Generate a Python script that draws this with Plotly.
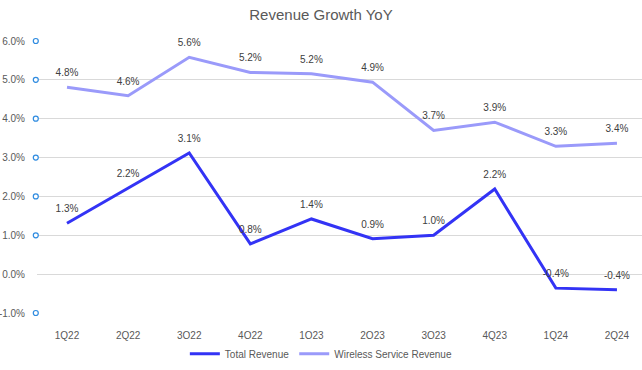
import plotly.graph_objects as go

quarters = ["1Q22", "2Q22", "3Q22", "4Q22", "1Q23", "2Q23", "3Q23", "4Q23", "1Q24", "2Q24"]
total_revenue = [1.31, 2.21, 3.12, 0.78, 1.42, 0.91, 1.00, 2.19, -0.36, -0.40]
wireless_revenue = [4.81, 4.59, 5.58, 5.19, 5.16, 4.94, 3.70, 3.91, 3.29, 3.37]
y_ticks = [-1, 0, 1, 2, 3, 4, 5, 6]
Y_MIN, Y_MAX = -1, 6

FONT = "Liberation Sans"
fig = go.Figure()
fig.add_trace(go.Scatter(
    x=quarters, y=total_revenue, name="Total Revenue",
    mode="lines+markers+text",
    line=dict(color="#3333F5", width=3),
    marker=dict(size=12, color="rgba(0,0,0,0)"),
    text=[f"{v:.1f}%" for v in total_revenue], textposition="top center",
    textfont=dict(family=FONT, size=10, color="#404040"),
    cliponaxis=False,
))
fig.add_trace(go.Scatter(
    x=quarters, y=wireless_revenue, name="Wireless Service Revenue",
    mode="lines+markers+text",
    line=dict(color="#9A9AFA", width=3),
    marker=dict(size=12, color="rgba(0,0,0,0)"),
    text=[f"{v:.1f}%" for v in wireless_revenue], textposition="top center",
    textfont=dict(family=FONT, size=10, color="#404040"),
    cliponaxis=False,
))

shapes = []
for t in y_ticks:
    if t == 0:
        continue
    shapes.append(dict(type="circle", xref="paper", yref="paper", xsizemode="pixel", ysizemode="pixel",
                       xanchor=-0.002, yanchor=(t - Y_MIN) / (Y_MAX - Y_MIN),
                       x0=-2.5, x1=2.5, y0=-2.5, y1=2.5,
                       line=dict(color="#2E8BE0", width=1.2), fillcolor="white", layer="above"))

fig.update_layout(
    width=642, height=370,
    margin=dict(l=37, r=0, t=41, b=57, autoexpand=False),
    paper_bgcolor="white", plot_bgcolor="white",
    title=dict(text="Revenue Growth YoY", x=0.5, xref="container", y=0.96, yanchor="middle",
               font=dict(family=FONT, size=15, color="#595959")),
    xaxis=dict(range=[-0.491, 9.41], showgrid=False, showline=False, zeroline=False,
               ticks="outside", ticklen=13, tickcolor="rgba(0,0,0,0)", automargin=False,
               tickfont=dict(family=FONT, size=10, color="#595959")),
    yaxis=dict(range=[Y_MIN, Y_MAX], tickvals=y_ticks, ticktext=[f"{t:.1f}%" for t in y_ticks],
               showgrid=True, gridcolor="#D9D9D9", gridwidth=1, zeroline=False, showline=False,
               automargin=False,
               tickfont=dict(family=FONT, size=10, color="#595959"), ticklabelstandoff=11),
    legend=dict(orientation="h", x=0.47, xanchor="center", y=-0.15, yanchor="middle",
                font=dict(family=FONT, size=10, color="#595959")),
    shapes=shapes,
    showlegend=True,
)
fig.write_html("out.html", config={"displayModeBar": False},
               post_script="document.body.style.margin='0';document.body.style.overflow='hidden';")
